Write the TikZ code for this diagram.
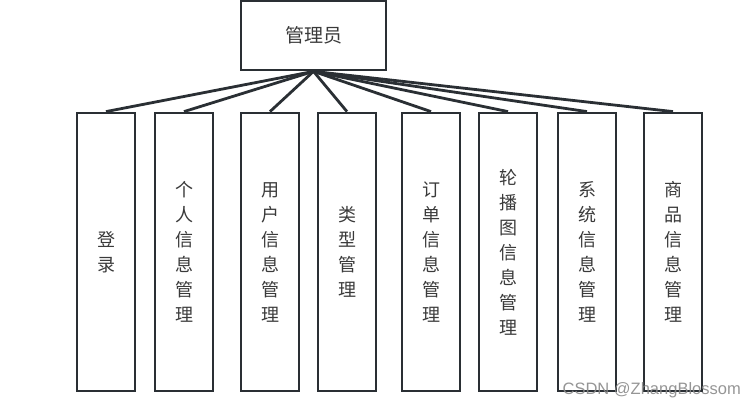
\documentclass[tikz,border=0pt]{standalone}
\usepackage{fontspec}
\newfontfamily\cjk{Noto Sans CJK SC}
\setmainfont{Liberation Sans}
\definecolor{boxline}{HTML}{2A2F34}
\definecolor{txt}{HTML}{3A3A3A}
\definecolor{wmark}{HTML}{8A8A8A}
\begin{document}
\begin{tikzpicture}[x=1pt,y=-1pt,
  box/.style={draw=boxline,line width=2.8pt,fill=white,inner sep=0pt},
  vtext/.style={text=txt,font=\cjk\fontsize{18}{25}\selectfont,align=center},
  link/.style={draw=boxline,line width=2.8pt}]
\useasboundingbox (0,0) rectangle (756,409);
\node[box,minimum width=145pt,minimum height=69pt] (root) at (313.5,35.5) {};
\node[text=txt,font=\cjk\fontsize{19}{22}\selectfont] at (root) {管理员};
\foreach \n/\cx in {b1/106, b2/184, b3/270, b4/347, b5/431, b6/508, b7/587, b8/673}{
  \node[box,minimum width=58pt,minimum height=278pt] (\n) at (\cx,252) {};
}
\foreach \n in {b1,b2,b3,b4,b5,b6,b7,b8}{
  \draw[link] (root.south) -- (\n.north);
}
\node[vtext] at (b1) {登\\录};
\node[vtext] at (b2) {个\\人\\信\\息\\管\\理};
\node[vtext] at (b3) {用\\户\\信\\息\\管\\理};
\node[vtext] at (b4) {类\\型\\管\\理};
\node[vtext] at (b5) {订\\单\\信\\息\\管\\理};
\node[vtext] at (b6) {轮\\播\\图\\信\\息\\管\\理};
\node[vtext] at (b7) {系\\统\\信\\息\\管\\理};
\node[vtext] at (b8) {商\\品\\信\\息\\管\\理};
\node[text=wmark,opacity=0.9,font=\fontsize{16.5}{18}\selectfont,anchor=east,inner sep=0pt] (wm) at (741,390) {CSDN @ZhangBlossom};
\end{tikzpicture}
\end{document}
